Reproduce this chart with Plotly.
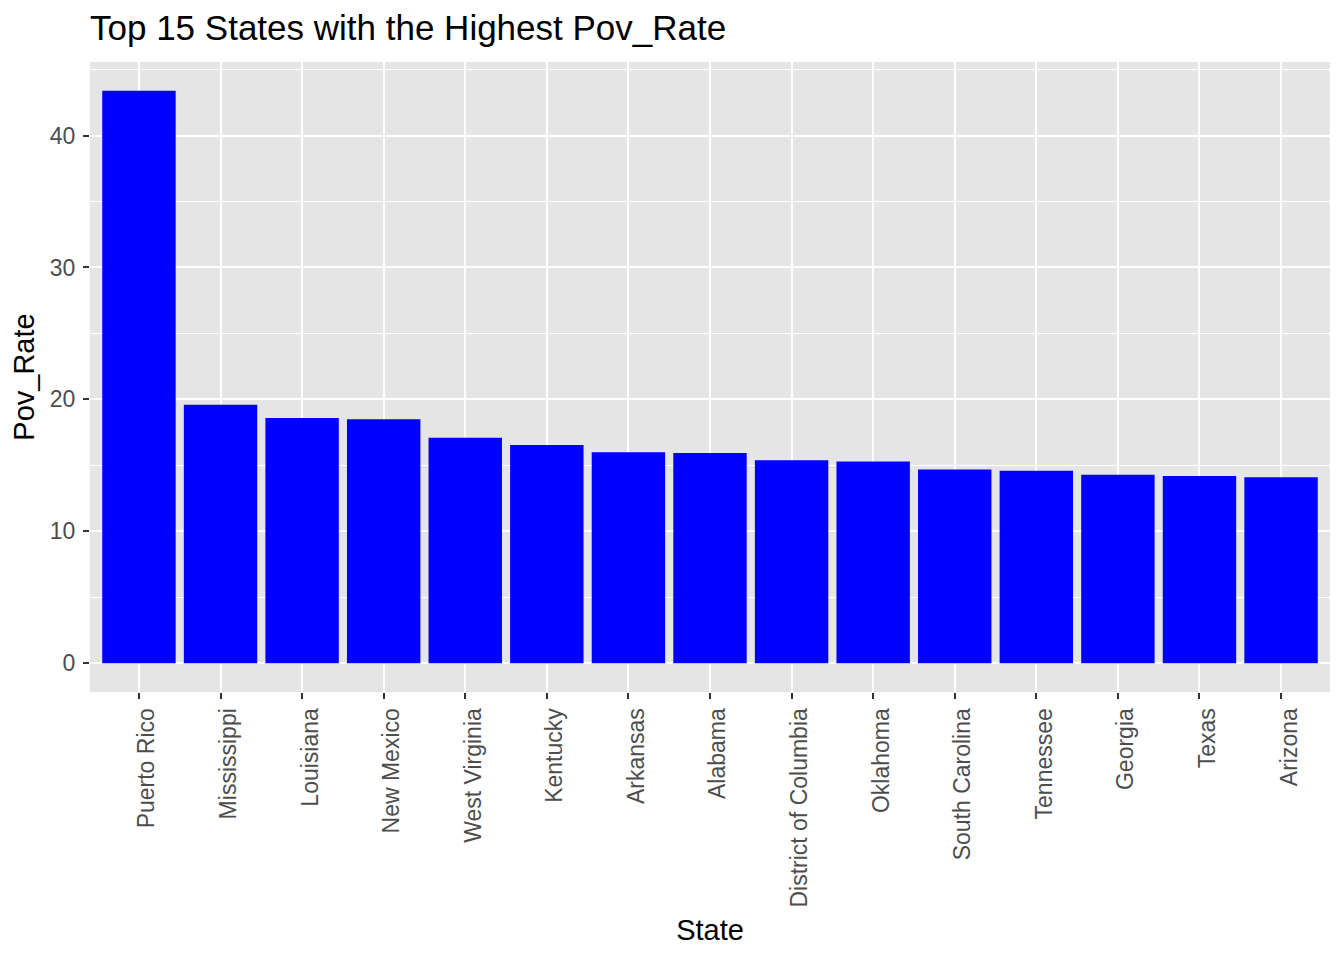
import plotly.graph_objects as go

states = ["Puerto Rico", "Mississippi", "Louisiana", "New Mexico", "West Virginia",
          "Kentucky", "Arkansas", "Alabama", "District of Columbia", "Oklahoma",
          "South Carolina", "Tennessee", "Georgia", "Texas", "Arizona"]
pov_rate = [43.4, 19.6, 18.6, 18.5, 17.1, 16.55, 16.0, 15.95, 15.4, 15.3,
            14.7, 14.6, 14.3, 14.2, 14.1]
y_ticks = [0, 10, 20, 30, 40]

font = "Liberation Sans, Arial, Helvetica, sans-serif"

# page has an 8px body margin, so figure is a bit smaller than the window
W, H = 1328, 944

fig = go.Figure(go.Bar(x=states, y=pov_rate, marker=dict(color="blue", line=dict(width=0)),
                       width=0.9))

ymax = max(pov_rate)
fig.update_layout(
    width=W, height=H,
    margin=dict(l=82, r=6, t=54, b=260),
    paper_bgcolor="white", plot_bgcolor="#E5E5E5",
    font=dict(family=font, color="black"),
    title=dict(text="Top 15 States with the Highest Pov_Rate", x=82 / W, xanchor="left",
               y=1 - 20 / H, yanchor="middle", font=dict(size=35, color="black")),
    showlegend=False,
    bargap=0.1,
)
fig.update_xaxes(
    title=dict(text="State", font=dict(size=29), standoff=13),
    range=[-0.6, len(states) - 0.4],
    tickangle=-90, tickfont=dict(size=23, color="#4D4D4D"),
    ticklabelshift=8,
    ticks="outside", ticklen=6, tickwidth=2, tickcolor="#333333",
    showgrid=True, gridcolor="white", gridwidth=2,
    zeroline=False, showline=False,
)
fig.update_yaxes(
    title=dict(text="Pov_Rate", font=dict(size=29), standoff=12),
    range=[-0.05 * ymax, ymax * 1.05],
    tickvals=y_ticks, tickfont=dict(size=23, color="#4D4D4D"),
    ticklabelstandoff=3,
    ticks="outside", ticklen=6, tickwidth=2, tickcolor="#333333",
    showgrid=True, gridcolor="white", gridwidth=2,
    minor=dict(tickvals=[5, 15, 25, 35, 45], showgrid=True, gridcolor="white", gridwidth=1, ticks=""),
    zeroline=False, showline=False,
)

fig.write_html("out.html")
